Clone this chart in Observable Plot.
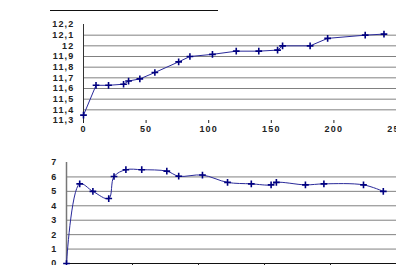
<!DOCTYPE html>
<html>
<head>
<meta charset="utf-8">
<script src="https://cdn.jsdelivr.net/npm/d3@7"></script>
<script src="https://cdn.jsdelivr.net/npm/@observablehq/plot@0.6"></script>
<style>
  html, body { margin: 0; padding: 0; background: #fff; overflow: hidden; width: 396px; height: 265px; }
  #wrap { position: relative; width: 396px; height: 265px; }
  #rule { position: absolute; left: 50px; top: 10px; width: 168px; border-top: 1.5px solid #111; }
  #top { position: absolute; left: 0; top: 0; }
  #bottom { position: absolute; left: 0; top: 150px; }
</style>
</head>
<body>
<div id="wrap">
  <div id="rule"></div>
  <div id="top"></div>
  <div id="bottom"></div>
</div>
<script>
// shared x positions
const xValues = [0, 10, 20, 32, 36, 45, 57, 76, 85, 103, 122, 140, 155, 159, 181, 195, 225, 240];
// upper series
const topValues = [11.35, 11.63, 11.63, 11.64, 11.67, 11.69, 11.75, 11.85, 11.9, 11.92, 11.95, 11.95, 11.96, 12.0, 12.0, 12.07, 12.1, 12.11];
// lower series
const bottomValues = [0, 5.52, 5.0, 4.5, 6.03, 6.5, 6.5, 6.4, 6.05, 6.13, 5.62, 5.52, 5.45, 5.62, 5.45, 5.52, 5.45, 5.0];

const xTicks = [0, 50, 100, 150, 200, 250];
const xTickLabels = ["0", "50", "100", "150", "200", "250"];
const topYTicks = [11.3, 11.4, 11.5, 11.6, 11.7, 11.8, 11.9, 12.0, 12.1, 12.2];
const topYLabels = ["11,3", "11,4", "11,5", "11,6", "11,7", "11,8", "11,9", "12", "12,1", "12,2"];
const bottomYTicks = [0, 1, 2, 3, 4, 5, 6, 7];
const bottomYLabels = ["0", "1", "2", "3", "4", "5", "6", "7"];

const topData = xValues.map((x, i) => ({x, y: topValues[i]}));
const bottomData = xValues.map((x, i) => ({x, y: bottomValues[i]}));

const style = {fontFamily: "'Liberation Sans', Arial, sans-serif", fontSize: "9px", fontWeight: "bold", letterSpacing: "1.2px", color: "#222", background: "transparent", overflow: "visible"};
const lineColor = "#2a2a9a";
const dotColor = "#000080";

const topChart = Plot.plot({
  width: 396, height: 136,
  marginTop: 24, marginBottom: 16, marginLeft: 83, marginRight: 0,
  style,
  x: {domain: [0, 250], label: null},
  y: {domain: [11.3, 12.2], label: null},
  marks: [
    Plot.gridY(topYTicks.slice(1, -1), {stroke: "#555", strokeOpacity: 0.75}),
    Plot.ruleX([0], {stroke: "#333", strokeWidth: 1}),
    Plot.axisY({ticks: topYTicks, tickSize: 0, tickPadding: 9, label: null, tickFormat: (d, i) => topYLabels[i]}),
    Plot.axisX({ticks: xTicks, tickSize: 3, tickPadding: 2, label: null, tickFormat: (d, i) => xTickLabels[i]}),
    Plot.line(topData, {x: "x", y: "y", stroke: lineColor, strokeWidth: 1}),
    Plot.dot(topData, {x: "x", y: "y", symbol: "plus", r: 2.3, stroke: dotColor, strokeWidth: 1.6})
  ]
});
document.getElementById("top").appendChild(topChart);

const bottomChart = Plot.plot({
  width: 396, height: 133,
  marginTop: 12, marginBottom: 20, marginLeft: 66, marginRight: 0,
  style,
  x: {domain: [0, 250], label: null},
  y: {domain: [0, 7], label: null},
  marks: [
    Plot.gridY(bottomYTicks.slice(1, -1), {stroke: "#555", strokeOpacity: 0.75}),
    Plot.ruleX([0], {stroke: "#777", strokeWidth: 1.5}),
    Plot.ruleY([0], {stroke: "#111", strokeWidth: 1}),
    Plot.axisY({ticks: bottomYTicks, tickSize: 0, tickPadding: 9, label: null, tickFormat: (d, i) => bottomYLabels[i]}),
    Plot.axisX({ticks: xTicks, tickSize: 3, tickPadding: 2, label: null, tickFormat: (d, i) => xTickLabels[i]}),
    Plot.line(bottomData, {x: "x", y: "y", stroke: lineColor, strokeWidth: 1, curve: "catmull-rom"}),
    Plot.dot(bottomData, {x: "x", y: "y", symbol: "plus", r: 2.3, stroke: dotColor, strokeWidth: 1.6})
  ]
});
document.getElementById("bottom").appendChild(bottomChart);
</script>
</body>
</html>
